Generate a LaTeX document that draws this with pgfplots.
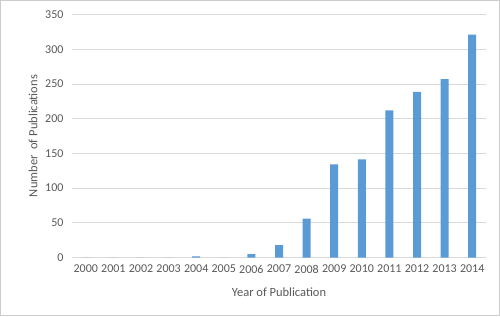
\documentclass[border=0pt]{standalone}
\usepackage{fontspec}
\setmainfont{Carlito}
\usepackage{pgfplots}
\pgfplotsset{compat=1.18}
\definecolor{barblue}{HTML}{5B9BD5}
\definecolor{txtgray}{HTML}{595959}
\definecolor{gridgray}{HTML}{D9D9D9}
\begin{document}
\begin{tikzpicture}
\useasboundingbox (-72pt,-58.5pt) rectangle (428pt,257.5pt);
\draw[draw=black!20, line width=0.8pt, fill=white] (-71.6pt,-58.1pt) rectangle (427.6pt,257.1pt);
\begin{axis}[
  at={(0,0)}, anchor=south west,
  scale only axis, width=414pt, height=243pt,
  xmin=-0.5, xmax=14.5, ymin=0, ymax=350,
  ytick={0,50,...,350},
  xtick={0,...,14},
  xticklabels={2000,2001,2002,2003,2004,2005,2006,2007,2008,2009,2010,2011,2012,2013,2014},
  axis line style={draw=none},
  major tick style={draw=none},
  ymajorgrids, grid style={gridgray, line width=0.8pt},
  ticklabel style={font=\fontsize{12}{14}\selectfont, text=txtgray},
  /pgf/number format/assume math mode=true,
  yticklabel style={xshift=-5pt},
  xticklabel style={yshift=-4pt},
  xlabel={Year of Publication},
  ylabel={Number\ \ of Publications},
  label style={font=\fontsize{12.5}{14}\selectfont, text=txtgray},
  xlabel style={at={(axis description cs:0.5,-0.142)}, anchor=center},
  ylabel style={at={(axis description cs:-0.094,0.5)}, anchor=center},
  clip=false,
]
\addplot[ybar, bar width=8pt, fill=barblue, draw=none, bar shift=0pt] coordinates {
(0,0) (1,0) (2,0) (3,0) (4,1.5) (5,0) (6,5) (7,18) (8,56) (9,134) (10,141.5) (11,212) (12,238.5) (13,257) (14,321)
};
\end{axis}
\end{tikzpicture}
\end{document}
